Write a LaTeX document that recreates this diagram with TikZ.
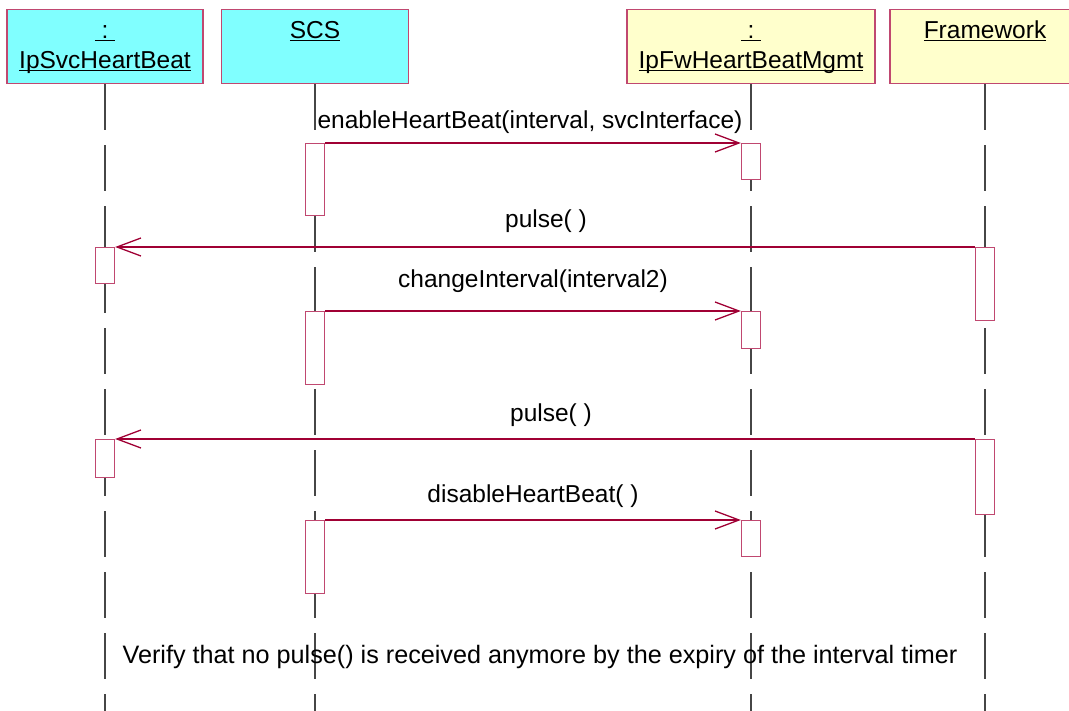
\documentclass[tikz,border=0pt]{standalone}
\usepackage{fontspec}
\setmainfont{Liberation Sans}
\usepackage{tikz}
\usetikzlibrary{arrows.meta,positioning}

\definecolor{objcyan}{RGB}{128,255,255}
\definecolor{objyellow}{RGB}{255,255,204}
\definecolor{objborder}{RGB}{192,72,112}
\definecolor{msgred}{RGB}{160,0,52}
\definecolor{lifegray}{RGB}{70,70,70}

\newcommand{\objname}[1]{\underline{\smash{#1}}}

\begin{document}
\begin{tikzpicture}[x=1pt, y=-1pt,
    font=\fontsize{24.5}{30}\selectfont,
    head/.style={rectangle, draw=objborder, line width=1.2pt, minimum height=74pt, anchor=north, inner sep=0pt},
    headname/.style={align=center, inner sep=0pt, anchor=north},
    act/.style={rectangle, draw=objborder, line width=1.2pt, fill=white, minimum width=19pt, anchor=north, inner sep=0pt},
    life/.style={draw=lifegray, line width=1.2pt, dash pattern=on 46pt off 15pt},
    msg/.style={draw=msgred, line width=1.3pt, -{Straight Barb[length=24pt, width=18pt, line width=1.3pt]}},
    msglbl/.style={anchor=base, inner sep=0pt}
]
\useasboundingbox (0,0) rectangle (1069,711);
\coordinate (bot) at (0,711);

% Object heads
\node[head, fill=objcyan, minimum width=196pt] (hdsvc) at (105,9) {};
\node[head, fill=objcyan, minimum width=187pt] (hdscs) at (315,9) {};
\node[head, fill=objyellow, minimum width=248pt] (hdfw) at (751,9) {};
\node[head, fill=objyellow, minimum width=190pt] (hdframe) at (985,9) {};

\node[headname, below=8.5pt of hdsvc.north] (nmsvc) {\strut\objname{\ :\ }\\\objname{IpSvcHeartBeat}};
\node[headname, below=8.5pt of hdscs.north] (nmscs) {\strut\objname{SCS}};
\node[headname, below=8.5pt of hdfw.north] (nmfw) {\strut\objname{\ :\ }\\\objname{IpFwHeartBeatMgmt}};
\node[headname, below=8.5pt of hdframe.north] (nmframe) {\strut\objname{Framework}};

% Lifelines
\draw[life] (hdsvc.south) -- (hdsvc.south |- bot);
\draw[life] (hdscs.south) -- (hdscs.south |- bot);
\draw[life] (hdfw.south) -- (hdfw.south |- bot);
\draw[life] (hdframe.south) -- (hdframe.south |- bot);

% Activations
\node[act, minimum height=72pt] (scsact1) at (315,143) {};
\node[act, minimum height=36pt] (fwact1) at (751,143) {};
\node[act, minimum height=73pt] (frameact1) at (985,247) {};
\node[act, minimum height=36pt] (svcact1) at (105,247) {};
\node[act, minimum height=73pt] (scsact2) at (315,311) {};
\node[act, minimum height=37pt] (fwact2) at (751,311) {};
\node[act, minimum height=75pt] (frameact2) at (985,439) {};
\node[act, minimum height=38pt] (svcact2) at (105,439) {};
\node[act, minimum height=73pt] (scsact3) at (315,520) {};
\node[act, minimum height=36pt] (fwact3) at (751,520) {};

% Messages
\draw[msg] (scsact1.north east) -- (fwact1.north west);
\draw[msg] (frameact1.north west) -- (svcact1.north east);
\draw[msg] (scsact2.north east) -- (fwact2.north west);
\draw[msg] (frameact2.north west) -- (svcact2.north east);
\draw[msg] (scsact3.north east) -- (fwact3.north west);

\node[msglbl] (lbenable) at (530,129) {enableHeartBeat(interval, svcInterface)};
\node[msglbl] (lbpulse1) at (546,228) {pulse( )};
\node[msglbl] (lbchange) at (533,288) {changeInterval(interval2)};
\node[msglbl] (lbpulse2) at (551,421) {pulse( )};
\node[msglbl] (lbdisable) at (533,502) {disableHeartBeat( )};

% Note
\node[msglbl, font=\fontsize{25.2}{30}\selectfont] (note) at (540,663) {Verify that no pulse() is received anymore by the expiry of the interval timer};

\end{tikzpicture}
\end{document}
